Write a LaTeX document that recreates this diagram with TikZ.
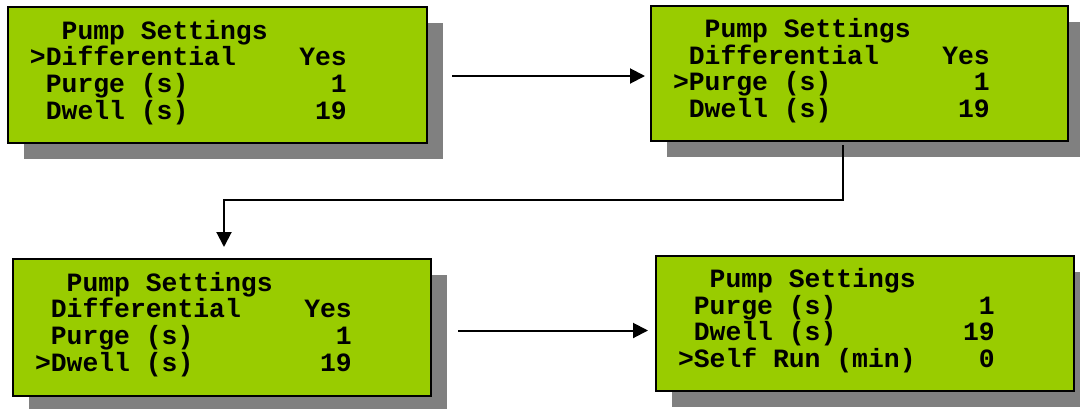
\documentclass[tikz,border=0pt]{standalone}
\usepackage{fontspec}
\newfontfamily\lcdfont{Liberation Mono}
\usetikzlibrary{arrows.meta,shadows}
\definecolor{lcdgreen}{RGB}{153,204,0}
\definecolor{shadowgray}{RGB}{128,128,128}
\newcommand\blank{\phantom{0}}
\newcommand\lcdleft[4]{\node[lcdtxt,anchor=base west] (#1-#2l) at ([shift={(22,#3)}]#1.north west) {#4};}
\newcommand\lcdright[4]{\node[lcdtxt,anchor=base east] (#1-#2r) at ([shift={(338.8,#3)}]#1.north west) {#4};}
\begin{document}
\begin{tikzpicture}[x=1pt,y=-1pt,
  lcdbox/.style={draw=black, line width=2pt, fill=lcdgreen, inner sep=0pt, outer sep=0pt,
    general shadow={fill=shadowgray, shadow xshift=16pt, shadow yshift=-16pt}},
  lcdtxt/.style={inner sep=0pt, outer sep=0pt, font=\lcdfont\bfseries\fontsize{26.4}{26.4}\selectfont},
  arr/.style={line width=2pt, -{Triangle[length=15pt,width=15pt]}}]
\useasboundingbox (0,0) rectangle (1080,408);
\clip (0,0) rectangle (1080,408);

\node[lcdbox, minimum width=419pt, minimum height=136pt] (b1) at (217.5,75) {};
\node[lcdbox, minimum width=417pt, minimum height=135.5pt] (b2) at (859.5,73.25) {};
\node[lcdbox, minimum width=418pt, minimum height=137pt] (b3) at (222,327.5) {};
\node[lcdbox, minimum width=418pt, minimum height=135.5pt] (b4) at (865,323.25) {};

% box 1
\lcdleft{b1}{1}{32}{\blank\blank Pump Settings}
\lcdleft{b1}{2}{58.7}{>Differential}
\lcdright{b1}{2}{58.7}{Yes}
\lcdleft{b1}{3}{85.3}{\blank Purge (s)}
\lcdright{b1}{3}{85.3}{1}
\lcdleft{b1}{4}{112}{\blank Dwell (s)}
\lcdright{b1}{4}{112}{19}
% box 2
\lcdleft{b2}{1}{32}{\blank\blank Pump Settings}
\lcdleft{b2}{2}{58.7}{\blank Differential}
\lcdright{b2}{2}{58.7}{Yes}
\lcdleft{b2}{3}{85.3}{>Purge (s)}
\lcdright{b2}{3}{85.3}{1}
\lcdleft{b2}{4}{112}{\blank Dwell (s)}
\lcdright{b2}{4}{112}{19}
% box 3
\lcdleft{b3}{1}{32}{\blank\blank Pump Settings}
\lcdleft{b3}{2}{58.7}{\blank Differential}
\lcdright{b3}{2}{58.7}{Yes}
\lcdleft{b3}{3}{85.3}{\blank Purge (s)}
\lcdright{b3}{3}{85.3}{1}
\lcdleft{b3}{4}{112}{>Dwell (s)}
\lcdright{b3}{4}{112}{19}
% box 4
\lcdleft{b4}{1}{32}{\blank\blank Pump Settings}
\lcdleft{b4}{2}{58.7}{\blank Purge (s)}
\lcdright{b4}{2}{58.7}{1}
\lcdleft{b4}{3}{85.3}{\blank Dwell (s)}
\lcdright{b4}{3}{85.3}{19}
\lcdleft{b4}{4}{112}{>Self Run (min)}
\lcdright{b4}{4}{112}{0}

% connectors
\coordinate (a1s) at ([xshift=25pt,yshift=-1pt]b1.east);
\draw[arr] (a1s) -- ([xshift=-6pt]b2.west |- a1s);

\coordinate (a2s) at ([xshift=-16.5pt,yshift=-4pt]b2.south);
\coordinate (a2e) at ([xshift=2pt,yshift=12pt]b3.north);
\draw[arr] (a2s) -- ++(0,55) -| (a2e);

\coordinate (a3s) at ([xshift=27pt,yshift=-3pt]b3.east);
\draw[arr] (a3s) -- ([xshift=-8pt]b4.west |- a3s);
\end{tikzpicture}
\end{document}
